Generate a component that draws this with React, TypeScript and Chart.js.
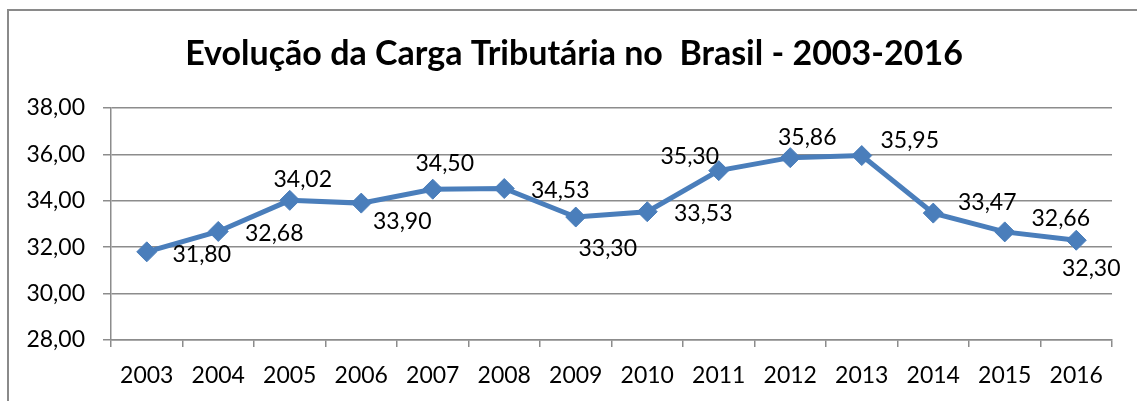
import React, { useEffect, useRef } from "react";
import { Chart, registerables } from "chart.js";

Chart.register(...registerables);

const TITLE = "Evolução da Carga Tributária no  Brasil - 2003-2016";
const years = ["2003", "2004", "2005", "2006", "2007", "2008", "2009", "2010", "2011", "2012", "2013", "2014", "2015", "2016"];
const cargaTributaria = [31.8, 32.68, 34.02, 33.9, 34.5, 34.53, 33.3, 33.53, 35.3, 35.86, 35.95, 33.47, 32.66, 32.3];
const yMin = 28;
const yMax = 38;
const yStep = 2;

// label placement relative to each point (dx, dy in px)
const labelOffsets: [number, number][] = [
  [55, 2], [56, 1], [13, -22], [41, 18], [12, -26], [56, 1], [32, 31],
  [56, 1], [-29, -15], [17, -21], [48, -16], [54, -11], [56, -14], [15, 27],
];

const FONT_FAMILY = "Lato";
const FONT_SIZE = 23;
const GRID = "#8c8c8c";
const LINE = "#4A7EBB";

const fmt = (v: number) => v.toFixed(2).replace(".", ",");

const decorPlugin = {
  id: "decor",
  beforeDraw(chart: any) {
    const ctx = chart.ctx;
    ctx.save();
    ctx.fillStyle = "#ffffff";
    ctx.fillRect(0, 0, chart.width, chart.height);
    ctx.strokeStyle = "#8a8a8a";
    ctx.lineWidth = 2;
    ctx.beginPath();
    ctx.moveTo(8, chart.height + 5);
    ctx.lineTo(8, 10);
    ctx.lineTo(chart.width + 5, 10);
    ctx.stroke();
    ctx.fillStyle = "#000";
    ctx.font = `bold 34px ${FONT_FAMILY}`;
    ctx.textAlign = "center";
    ctx.textBaseline = "alphabetic";
    ctx.fillText(TITLE, 574, 65);
    ctx.restore();
  },
  afterDatasetsDraw(chart: any) {
    const ctx = chart.ctx;
    const meta = chart.getDatasetMeta(0);
    ctx.save();
    ctx.fillStyle = "#000";
    ctx.font = `${FONT_SIZE}px ${FONT_FAMILY}`;
    ctx.textAlign = "center";
    ctx.textBaseline = "alphabetic";
    meta.data.forEach((pt: any, i: number) => {
      const [dx, dy] = labelOffsets[i];
      ctx.fillText(fmt(cargaTributaria[i]), pt.x + dx, pt.y + dy + FONT_SIZE * 0.36);
    });
    ctx.restore();
  },
};

export default function App() {
  const ref = useRef<HTMLCanvasElement>(null);
  useEffect(() => {
    if (!ref.current) return;
    const font = { family: FONT_FAMILY, size: FONT_SIZE };
    const chart = new Chart(ref.current, {
      type: "line",
      data: {
        labels: years,
        datasets: [
          {
            data: cargaTributaria,
            borderColor: LINE,
            backgroundColor: LINE,
            borderWidth: 5,
            pointStyle: "rectRot",
            pointRadius: 10,
            pointBorderWidth: 1,
            pointBackgroundColor: LINE,
            pointBorderColor: LINE,
            tension: 0,
          },
        ],
      },
      options: {
        responsive: false,
        animation: false,
        layout: { padding: { left: 11, top: 108, right: 25, bottom: 11 } },
        plugins: { legend: { display: false }, title: { display: false }, tooltip: { enabled: false } },
        scales: {
          x: {
            offset: true,
            grid: { offset: true, drawOnChartArea: false, drawTicks: true, tickLength: 7, color: GRID, lineWidth: 1.5 },
            border: { color: GRID, width: 1.5 },
            ticks: { font, color: "#000", padding: 15, maxRotation: 0, autoSkip: false },
            afterFit: (s: any) => { s.height = 50; },
          },
          y: {
            min: yMin,
            max: yMax,
            grid: { color: GRID, lineWidth: 1.5, tickLength: 8 },
            border: { color: GRID, width: 1.5 },
            ticks: { stepSize: yStep, font, color: "#000", padding: 18, callback: (v: any) => fmt(Number(v)) },
            afterFit: (s: any) => { s.width = 100; },
          },
        },
      },
      plugins: [decorPlugin],
    });
    return () => chart.destroy();
  }, []);
  return (
    <div style={{ position: "absolute", left: 0, top: 0, width: 1137, height: 401, overflow: "hidden" }}>
      <canvas ref={ref} width={1137} height={401} style={{ display: "block" }} />
    </div>
  );
}
